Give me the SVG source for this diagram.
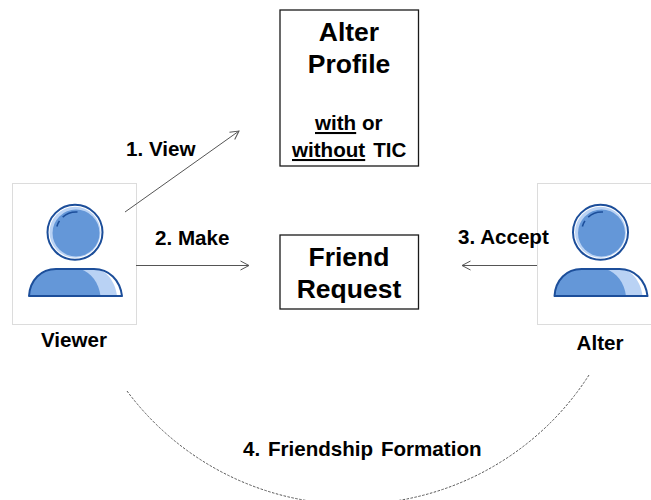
<svg xmlns="http://www.w3.org/2000/svg" width="651" height="500" viewBox="0 0 651 500">
<style>
text{font-family:"Liberation Sans",Arial,sans-serif;font-weight:700;fill:#000}
.t{font-size:20.6px}
.h{font-size:26.5px;text-anchor:middle}
.s{font-size:20.6px;text-anchor:middle}
.l{font-size:20.6px}
.box{fill:#fff;stroke:#1a1a1a;stroke-width:1.3}
.frame{fill:#fff;stroke:#dcdcdc;stroke-width:1}
.c{fill:none;stroke:#555;stroke-width:1}
.d{fill:none;stroke:#555;stroke-width:1;stroke-dasharray:2.500 1.500}
</style>
<defs>
<marker id="a" viewBox="0 0 12 12" refX="11" refY="6" markerWidth="12" markerHeight="12" markerUnits="userSpaceOnUse" orient="auto"><path d="M2.500 1.500L11 6L2.500 10.500" fill="none" stroke="#555" stroke-width="1"/></marker>
<g id="person">
<circle cx="75" cy="232.300" r="27.500" fill="#fff" stroke="#1c4e9a" stroke-width="2"/>
<circle cx="75" cy="232.300" r="25.500" fill="#b9d2f4"/>
<circle cx="76" cy="233" r="23.500" fill="#6497d8"/>
<path d="M77.500 212A20 20 0 0 0 56.500 228" fill="none" stroke="#1c4e9a" stroke-width="1.600" stroke-dasharray="16 5 6 9"/>
<path d="M29 296C30 280 41 269 56 269H94C109 269 120 280 122 296Z" fill="#fff"/>
<path d="M29 296C30 280 41 269 56 269H94C105 269 115 280 117 296Z" fill="#b9d2f4"/>
<path d="M29 296C30 280 41 269 56 269H80C91 272 99 283 100.500 296Z" fill="#6497d8"/>
<path d="M29 296C30 280 41 269 56 269H94C109 269 120 280 122 296Z" fill="none" stroke="#1c4e9a" stroke-width="2" stroke-linejoin="round"/>
</g>
</defs>
<g id="viewer">
<rect class="frame" x="12.500" y="183.500" width="124" height="141"/>
<use href="#person"/>
<text class="s" x="74" y="347">Viewer</text>
</g>
<g id="alter">
<rect class="frame" x="537.500" y="183.500" width="120" height="141"/>
<use href="#person" x="525.500"/>
<text class="s" x="600" y="350">Alter</text>
</g>
<g id="connectors">
<path class="c" d="M125 212L239 131" marker-end="url(#a)"/>
<path class="c" d="M136 265.500H249" marker-end="url(#a)"/>
<path class="c" d="M537 265.500H462" marker-end="url(#a)"/>
<path class="d" d="M127 391A281 281 0 0 0 589 375"/>
</g>
<g id="alter-profile">
<rect class="box" x="280" y="10" width="138.500" height="156"/>
<text class="h" x="349" y="41">Alter</text>
<text class="h" x="349" y="73">Profile</text>
<text class="l" x="315" y="130"><tspan text-decoration="underline">with</tspan> or</text>
<text class="l" x="292" y="157" word-spacing="2.300"><tspan text-decoration="underline">without</tspan> TIC</text>
</g>
<g id="friend-request">
<rect class="box" x="280" y="235" width="138.500" height="74"/>
<text class="h" x="349" y="266">Friend</text>
<text class="h" x="349" y="298">Request</text>
</g>
<g id="labels">
<text class="t" x="126" y="156">1. View</text>
<text class="t" x="155" y="245">2. Make</text>
<text class="t" x="458" y="244">3. Accept</text>
<text class="t" x="243" y="456" word-spacing="2">4. Friendship Formation</text>
</g>
</svg>
